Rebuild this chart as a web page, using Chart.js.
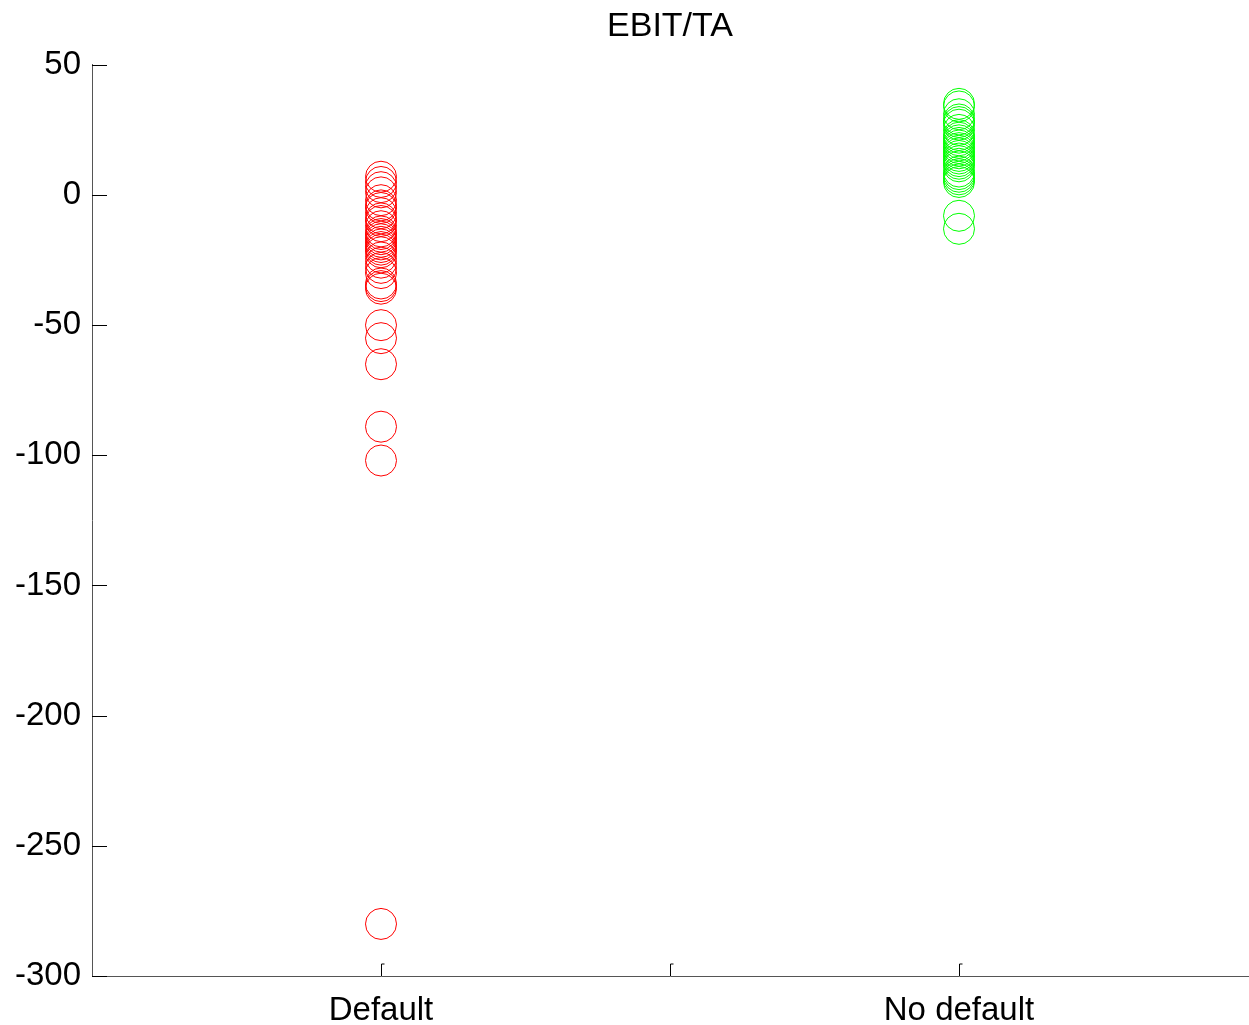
<!DOCTYPE html>
<html>
<head>
<meta charset="utf-8">
<title>EBIT/TA</title>
<script src="https://cdn.jsdelivr.net/npm/chart.js@4/dist/chart.umd.min.js"></script>
<style>
  html, body { margin: 0; padding: 0; background: #ffffff; overflow: hidden; }
  #wrap { width: 1249px; height: 1025px; }
  #chart { display: block; }
</style>
</head>
<body>
<div id="wrap"><canvas id="chart" width="1249" height="1025"></canvas></div>
<script>
// Group labels along the horizontal axis (group n sits at x = n)
const categories = ['Default', 'No default'];

// EBIT/TA observations (%) per group
const defaultValues = [7, 5, 3, 1, -2, -4, -5, -7, -9, -10, -12, -14, -15, -16, -17,
  -18, -19, -20, -21, -22, -24, -26, -28, -30, -34, -35, -36, -50, -55, -65, -89, -102, -280];
const noDefaultValues = [35, 34, 31, 29, 28, 27, 25, 23, 22, 21, 20, 19, 18, 17, 16,
  15, 14, 13, 12, 11, 9, 8, 7, 6, 5, -8, -13];

// Axis ticks
const yTicks = [50, 0, -50, -100, -150, -200, -250, -300];
const xTicks = [1, 1.5, 2];

const FONT = '"Liberation Sans", Arial, sans-serif';

function toPoints(values, groupIndex) {
  return values.map(v => ({ x: groupIndex + 1, y: v }));
}

// Short inward tick marks along the left and bottom axes
const inwardTicks = {
  id: 'inwardTicks',
  afterDraw(chart) {
    const { ctx } = chart;
    const xs = chart.scales.x, ys = chart.scales.y;
    const left = xs.left, bottom = ys.bottom;
    ctx.save();
    ctx.strokeStyle = '#000';
    ctx.lineWidth = 1;
    yTicks.forEach(v => {
      const py = Math.round(ys.getPixelForValue(v)) + 0.5;
      ctx.beginPath();
      ctx.moveTo(left, py);
      ctx.lineTo(left + 15, py);
      ctx.stroke();
    });
    xTicks.forEach(v => {
      const px = Math.round(xs.getPixelForValue(v)) + 0.5;
      ctx.beginPath();
      ctx.moveTo(px, bottom);
      ctx.lineTo(px, bottom - 12);
      ctx.lineTo(px + 3, bottom - 12);
      ctx.stroke();
    });
    ctx.restore();
  }
};

new Chart(document.getElementById('chart'), {
  type: 'scatter',
  data: {
    datasets: [
      {
        label: categories[0],
        data: toPoints(defaultValues, 0),
        borderColor: '#ff0000',
        backgroundColor: 'rgba(0,0,0,0)',
        borderWidth: 1,
        pointRadius: 15.5,
        pointHoverRadius: 15.5
      },
      {
        label: categories[1],
        data: toPoints(noDefaultValues, 1),
        borderColor: '#00ff00',
        backgroundColor: 'rgba(0,0,0,0)',
        borderWidth: 1,
        pointRadius: 15.5,
        pointHoverRadius: 15.5
      }
    ]
  },
  options: {
    responsive: false,
    animation: false,
    events: [],
    layout: { autoPadding: false, padding: { left: 0, right: 1, top: 0, bottom: 0 } },
    plugins: {
      legend: { display: false },
      tooltip: { enabled: false },
      title: {
        display: true,
        fullSize: false,
        text: 'EBIT/TA',
        color: '#000',
        font: { family: FONT, size: 34, weight: 'normal' },
        padding: { top: 6, bottom: 18 }
      }
    },
    scales: {
      x: {
        type: 'linear',
        min: 0.5,
        max: 2.5,
        afterBuildTicks(scale) {
          scale.ticks = xTicks.map(v => ({ value: v }));
        },
        afterFit(scale) {
          scale.height = 49;
          scale.paddingLeft = 0;
          scale.paddingRight = 0;
        },
        ticks: {
          autoSkip: false,
          maxRotation: 0,
          padding: 15,
          color: '#000',
          font: { family: FONT, size: 33 },
          callback(value) {
            const i = Math.round(value) - 1;
            return Number.isInteger(value) && categories[i] ? categories[i] : '';
          }
        },
        grid: { display: false, drawTicks: false },
        border: { display: true, color: '#555', width: 1 }
      },
      y: {
        type: 'linear',
        min: -300,
        max: 50,
        afterBuildTicks(scale) {
          scale.ticks = yTicks.map(v => ({ value: v }));
        },
        afterFit(scale) { scale.width = 92; },
        ticks: {
          padding: 11,
          color: '#000',
          font: { family: FONT, size: 33 }
        },
        grid: { display: false, drawTicks: false },
        border: { display: true, color: '#555', width: 1 }
      }
    }
  },
  plugins: [inwardTicks]
});
</script>
</body>
</html>
